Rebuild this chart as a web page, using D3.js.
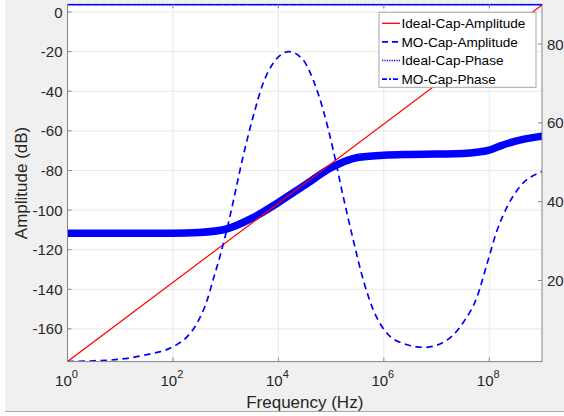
<!DOCTYPE html>
<html>
<head>
<meta charset="utf-8">
<script src="https://cdn.jsdelivr.net/npm/d3@7"></script>
<style>
	body { margin: 0; background: #ffffff; }
	svg { display: block; font-family: "Liberation Sans", Arial, sans-serif; }
</style>
</head>
<body>
<div id="chart"></div>
<script>
'use strict';

// frequency given as log10(Hz)
var idealAmpExp = [0, 9];
var idealAmpDb = [-176.5, 3.5];

var moAmpExp = [0, 0.5, 1.0, 1.5, 2.0, 2.27, 2.46, 2.65, 2.76, 2.89, 2.99, 3.08, 3.33, 3.52, 3.71, 3.90,
	4.20, 4.47, 4.66, 4.85, 5.04, 5.23, 5.42, 5.61, 5.80, 6.06, 6.36, 6.78, 7.20, 7.50, 7.77, 7.96,
	8.15, 8.34, 8.58, 9.0];
var moAmpDb = [-176.5, -176.1, -175.3, -173.0, -169.0, -163.9, -157.0, -145.4, -135.3, -123.5, -113.4, -103.3,
	-73.0, -52.9, -36.0, -25.9, -20.0, -24.2, -34.3, -49.5, -69.7, -93.2, -115.1, -135.3, -150.4,
	-162.2, -167.3, -169.3, -165.6, -157.0, -143.7, -126.9, -110.1, -98.3, -88.2, -80.6];

var idealPhaseExp = [0, 9];
var idealPhaseDeg = [90, 90];

var moPhaseExp = [0, 1.0, 2.0, 2.5, 3.0, 3.5, 4.0, 4.5, 5.0, 5.5, 6.0, 6.5, 7.0, 7.5, 7.8, 8.0, 8.2, 8.4, 8.6, 8.8, 9.0];
var moPhaseDeg = [32.0, 32.0, 32.0, 32.2, 33.0, 35.8, 39.8, 44.2, 48.6, 51.2, 51.8, 52.0, 52.1, 52.2, 52.6, 53.1, 54.1, 55.0, 55.7, 56.2, 56.6];

var xTickExp = [0, 2, 4, 6, 8];
var leftTicks = [-160, -140, -120, -100, -80, -60, -40, -20, 0];
var rightTicks = [20, 40, 60, 80];

var legendNames = ["Ideal-Cap-Amplitude", "MO-Cap-Amplitude", "Ideal-Cap-Phase", "MO-Cap-Phase"];

var WIDTH = 564;
var HEIGHT = 416;
var PLOT_L = 67.5;
var PLOT_R = 542;
var PLOT_T = 4.3;
var PLOT_B = 361.6;
var TICK_LEN = 4;
var TEXT_COLOR = "#262626";
var AXIS_COLOR = "#858585";
var GRID_COLOR = "#e8e8e8";

var svg = d3.select("#chart").append("svg")
	.attr("width", WIDTH)
	.attr("height", HEIGHT);

// figure background
svg.append("rect")
	.attr("x", 5).attr("y", 0)
	.attr("width", WIDTH - 5).attr("height", 411.5)
	.style("fill", "#f0f0f0");
svg.append("line")
	.attr("x1", 5).attr("x2", WIDTH)
	.attr("y1", 411.5).attr("y2", 411.5)
	.style("stroke", "#a8a8a8");

var xScale = d3.scaleLog()
	.domain([1, 1e9])
	.range([PLOT_L, PLOT_R]);

var yLeft = d3.scaleLinear()
	.domain([-176.5, 3.9])
	.range([PLOT_B, PLOT_T]);

var yRight = d3.scaleLinear()
	.domain([-0.6, 90.1])
	.range([PLOT_B, PLOT_T]);

function toFreq(e) {
	return Math.pow(10, e);
}

// plot area
svg.append("rect")
	.attr("x", PLOT_L).attr("y", PLOT_T)
	.attr("width", PLOT_R - PLOT_L).attr("height", PLOT_B - PLOT_T)
	.style("fill", "#ffffff");

// grid
var grid = svg.append("g");
grid.selectAll(".vgrid")
	.data(xTickExp)
	.enter().append("line")
	.attr("x1", function (d) { return xScale(toFreq(d)); })
	.attr("x2", function (d) { return xScale(toFreq(d)); })
	.attr("y1", PLOT_T).attr("y2", PLOT_B)
	.style("stroke", GRID_COLOR);
grid.selectAll(".hgrid")
	.data(leftTicks)
	.enter().append("line")
	.attr("x1", PLOT_L).attr("x2", PLOT_R)
	.attr("y1", function (d) { return yLeft(d); })
	.attr("y2", function (d) { return yLeft(d); })
	.style("stroke", GRID_COLOR);

svg.append("clipPath").attr("id", "plot-clip")
	.append("rect")
	.attr("x", PLOT_L).attr("y", PLOT_T - 2)
	.attr("width", PLOT_R - PLOT_L).attr("height", PLOT_B - PLOT_T + 2);

function makeLine(yScale, curve) {
	return d3.line()
		.x(function (d) { return xScale(toFreq(d[0])); })
		.y(function (d) { return yScale(d[1]); })
		.curve(curve);
}

var lines = svg.append("g").attr("clip-path", "url(#plot-clip)");

// MO-Cap-Phase (thick)
lines.append("path")
	.datum(d3.zip(moPhaseExp, moPhaseDeg))
	.attr("d", makeLine(yRight, d3.curveMonotoneX))
	.style("fill", "none")
	.style("stroke", "#0000ff")
	.style("stroke-width", 7.5)
	.style("stroke-linecap", "round");

// Ideal-Cap-Amplitude
lines.append("path")
	.datum(d3.zip(idealAmpExp, idealAmpDb))
	.attr("d", makeLine(yLeft, d3.curveLinear))
	.style("fill", "none")
	.style("stroke", "#ff0000")
	.style("stroke-width", 1.2);

// MO-Cap-Amplitude
lines.append("path")
	.datum(d3.zip(moAmpExp, moAmpDb))
	.attr("d", makeLine(yLeft, d3.curveMonotoneX))
	.style("fill", "none")
	.style("stroke", "#0000ff")
	.style("stroke-width", 1.7)
	.style("stroke-dasharray", "6.5,4.5");

// axes box
svg.append("rect")
	.attr("x", PLOT_L).attr("y", PLOT_T)
	.attr("width", PLOT_R - PLOT_L).attr("height", PLOT_B - PLOT_T)
	.style("fill", "none")
	.style("stroke", AXIS_COLOR);

// Ideal-Cap-Phase sits on the top edge
svg.append("path")
	.datum(d3.zip(idealPhaseExp, idealPhaseDeg))
	.attr("d", makeLine(yRight, d3.curveLinear))
	.style("fill", "none")
	.style("stroke", "#0000ff")
	.style("stroke-width", 1.5)
	.style("stroke-dasharray", "8,0.2");

// x ticks (bottom and top, inward)
var xt = svg.append("g");
xTickExp.forEach(function (e) {
	var x = xScale(toFreq(e));
	xt.append("line").attr("x1", x).attr("x2", x)
		.attr("y1", PLOT_B).attr("y2", PLOT_B - TICK_LEN)
		.style("stroke", AXIS_COLOR);
	xt.append("line").attr("x1", x).attr("x2", x)
		.attr("y1", PLOT_T).attr("y2", PLOT_T + TICK_LEN)
		.style("stroke", AXIS_COLOR);
	var t = xt.append("text")
		.attr("x", x - 1)
		.attr("y", 386)
		.attr("text-anchor", "middle")
		.style("font-size", "15px")
		.style("fill", TEXT_COLOR);
	t.append("tspan").text("10");
	t.append("tspan")
		.attr("dy", -8)
		.style("font-size", "11px")
		.text(e);
});

// left ticks
var yl = svg.append("g");
leftTicks.forEach(function (v) {
	var y = yLeft(v);
	yl.append("line").attr("x1", PLOT_L).attr("x2", PLOT_L + TICK_LEN)
		.attr("y1", y).attr("y2", y)
		.style("stroke", AXIS_COLOR);
	yl.append("text")
		.attr("x", PLOT_L - 5)
		.attr("y", y + 5.5)
		.attr("text-anchor", "end")
		.style("font-size", "15px")
		.style("fill", TEXT_COLOR)
		.text(v);
});

// right ticks
var yr = svg.append("g");
rightTicks.forEach(function (v) {
	var y = yRight(v);
	yr.append("line").attr("x1", PLOT_R).attr("x2", PLOT_R - TICK_LEN)
		.attr("y1", y).attr("y2", y)
		.style("stroke", AXIS_COLOR);
	yr.append("text")
		.attr("x", PLOT_R + 5)
		.attr("y", y + 5.5)
		.attr("text-anchor", "start")
		.style("font-size", "15px")
		.style("fill", TEXT_COLOR)
		.text(v);
});

// axis labels
svg.append("text")
	.attr("x", (PLOT_L + PLOT_R) / 2)
	.attr("y", 408)
	.attr("text-anchor", "middle")
	.style("font-size", "17px")
	.style("fill", TEXT_COLOR)
	.text("Frequency (Hz)");

svg.append("text")
	.attr("transform", "translate(27," + ((PLOT_T + PLOT_B) / 2) + ") rotate(-90)")
	.attr("text-anchor", "middle")
	.style("font-size", "17px")
	.style("fill", TEXT_COLOR)
	.text("Amplitude (dB)");

// legend
var legend = svg.append("g");
legend.append("rect")
	.attr("x", 379).attr("y", 12.3)
	.attr("width", 157).attr("height", 75)
	.style("fill", "#ffffff")
	.style("stroke", "#a6a6a6");

var legendStyles = [
	{ color: "#ff0000", dash: null, width: 1.3 },
	{ color: "#0000ff", dash: "6,4", width: 1.6 },
	{ color: "#0000ff", dash: "1.2,1.2", width: 1.3 },
	{ color: "#0000ff", dash: "5,2,2,2", width: 1.6 }
];

legendNames.forEach(function (name, i) {
	var y = 23.3 + i * 18.6;
	var s = legendStyles[i];
	legend.append("line")
		.attr("x1", 382).attr("x2", 400)
		.attr("y1", y).attr("y2", y)
		.style("stroke", s.color)
		.style("stroke-width", s.width)
		.style("stroke-dasharray", s.dash);
	legend.append("text")
		.attr("x", 401.5)
		.attr("y", y + 4.8)
		.style("font-size", "13.6px")
		.style("fill", "#000000")
		.text(name);
});
</script>
</body>
</html>
